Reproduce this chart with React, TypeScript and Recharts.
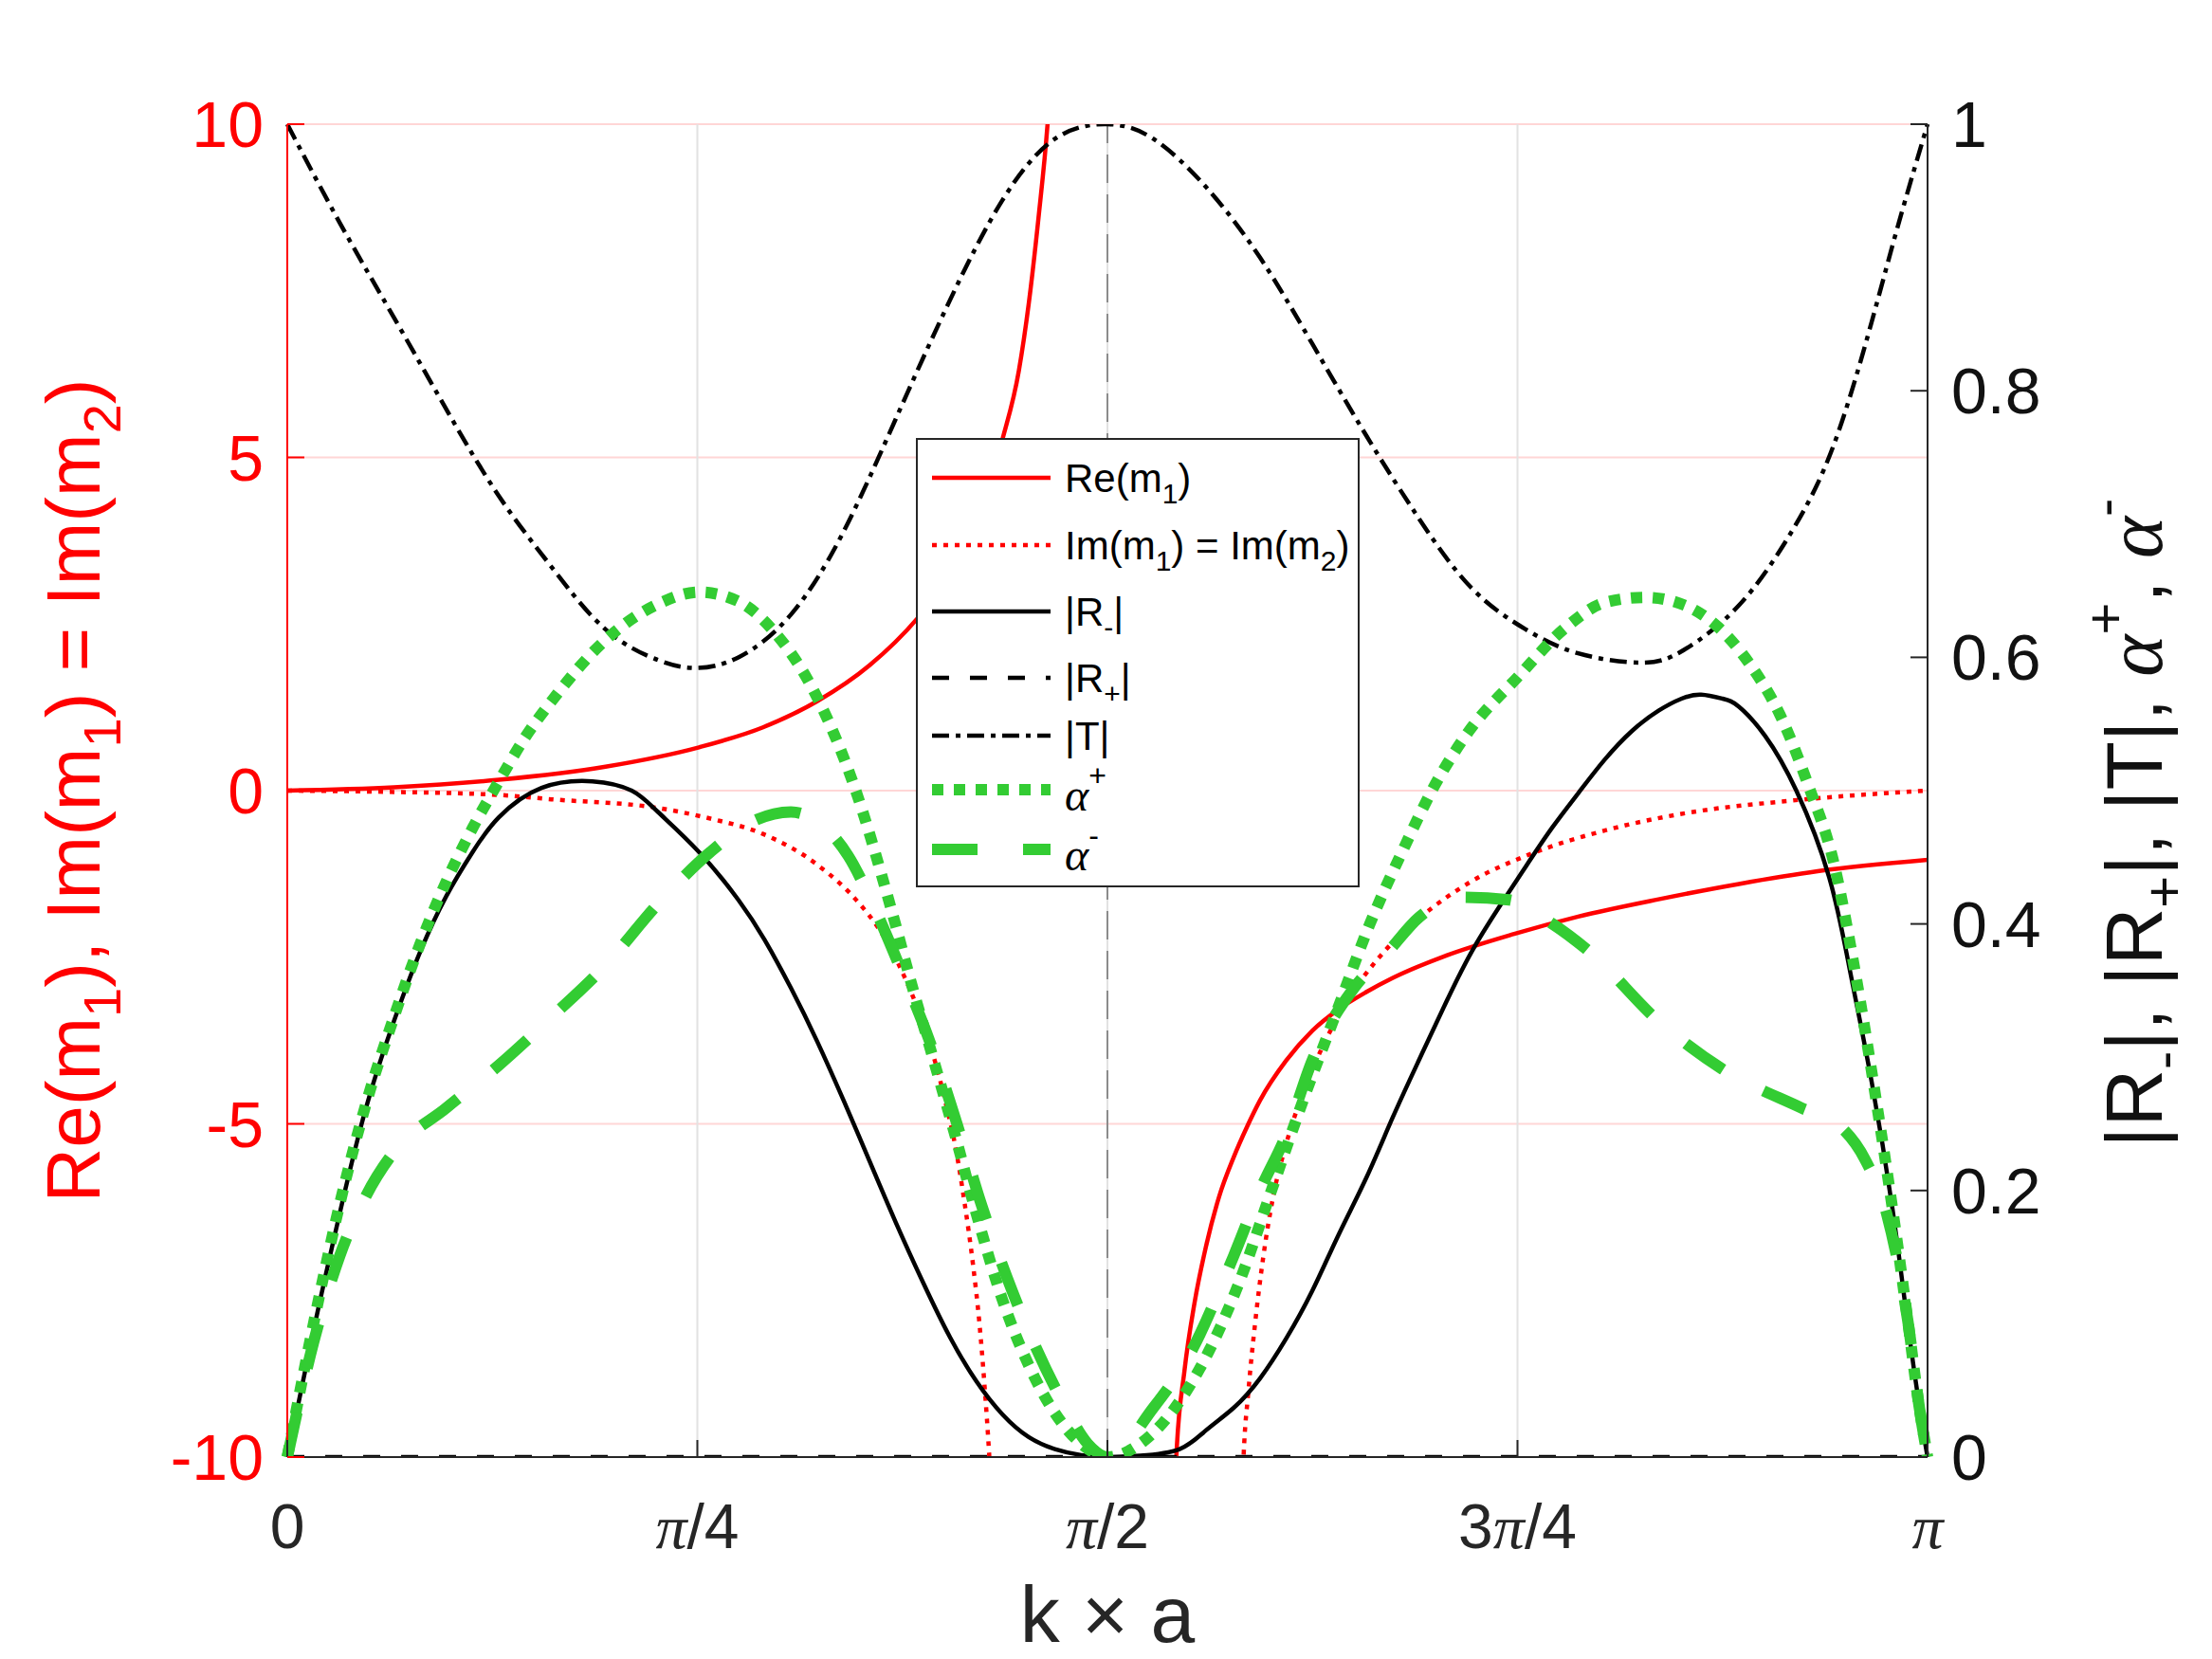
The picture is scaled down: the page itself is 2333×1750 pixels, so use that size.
import React from "react";
import { LineChart, Line, XAxis, YAxis, CartesianGrid, ReferenceLine } from "recharts";

const W = 2333;
const H = 1750;
const SANS = "'Liberation Sans', Arial, Helvetica, sans-serif";
const SERIF = "'Liberation Serif', 'Times New Roman', serif";
const RED = "#ff0000";
const GREEN = "#33cc33";
const INK = "#262626";

// x values are k*a in units of pi
const xTicks = [0, 0.25, 0.5, 0.75, 1];
const xTickLabels = ["0", "π/4", "π/2", "3π/4", "π"];
const leftTicks = [-10, -5, 0, 5, 10];
const rightTicks = [0, 0.2, 0.4, 0.6, 0.8, 1];

// Re(m1), two branches (left axis)
const reLeftX = [0, 0.065, 0.129, 0.194, 0.251, 0.29, 0.323, 0.355, 0.384, 0.41, 0.436, 0.446, 0.452, 0.458, 0.4635, 0.47];
const reLeftY = [0, 0.05, 0.163, 0.36, 0.65, 0.95, 1.34, 1.88, 2.58, 3.45, 5.27, 6.3, 7.3, 8.6, 10, 12.6];
const reRightX = [0.538, 0.542, 0.547, 0.553, 0.56, 0.568, 0.577, 0.585, 0.593, 0.609, 0.625, 0.641, 0.658, 0.674, 0.706, 0.748, 0.787, 0.836, 0.885, 0.933, 1];
const reRightY = [-13, -10, -8.7, -7.7, -6.85, -6.1, -5.5, -5.05, -4.65, -4.05, -3.6, -3.28, -3.02, -2.81, -2.48, -2.15, -1.89, -1.63, -1.4, -1.21, -1.04];

// Im(m1) = Im(m2), two branches (left axis)
const imLeftX = [0, 0.065, 0.129, 0.161, 0.226, 0.258, 0.29, 0.323, 0.349, 0.36, 0.368, 0.376, 0.384, 0.391, 0.397, 0.402, 0.407, 0.413, 0.418, 0.422, 0.425, 0.428, 0.431];
const imLeftY = [0, -0.02, -0.065, -0.13, -0.26, -0.42, -0.65, -1.11, -1.7, -2.05, -2.38, -2.78, -3.25, -3.75, -4.25, -4.75, -5.3, -6.2, -7.1, -8.0, -8.9, -10, -11.5];
const imRightX = [0.581, 0.583, 0.586, 0.59, 0.595, 0.601, 0.609, 0.619, 0.632, 0.645, 0.664, 0.69, 0.722, 0.755, 0.803, 0.852, 0.917, 1];
const imRightY = [-11.5, -10, -9.0, -8.0, -7.0, -6.1, -5.3, -4.55, -3.8, -3.2, -2.55, -1.92, -1.36, -0.98, -0.6, -0.34, -0.15, 0];

// |R-| (right axis)
const rMinusX = [0, 0.016, 0.032, 0.048, 0.065, 0.081, 0.097, 0.113, 0.129, 0.155, 0.186, 0.21, 0.226, 0.251, 0.275, 0.291, 0.307, 0.323, 0.339, 0.355, 0.371, 0.388, 0.404, 0.42, 0.436, 0.452, 0.468, 0.484, 0.5, 0.52, 0.544, 0.56, 0.577, 0.593, 0.609, 0.625, 0.641, 0.658, 0.674, 0.69, 0.706, 0.722, 0.739, 0.755, 0.771, 0.787, 0.803, 0.82, 0.836, 0.85, 0.862, 0.875, 0.885, 0.901, 0.92, 0.94, 0.953, 0.966, 0.979, 0.988, 0.996, 1];
const rMinusY = [0, 0.095, 0.183, 0.262, 0.327, 0.379, 0.421, 0.454, 0.48, 0.502, 0.507, 0.5, 0.484, 0.454, 0.418, 0.388, 0.352, 0.312, 0.268, 0.222, 0.176, 0.13, 0.09, 0.057, 0.032, 0.015, 0.006, 0.0015, 0, 0.001, 0.006, 0.02, 0.037, 0.059, 0.089, 0.125, 0.167, 0.21, 0.255, 0.298, 0.34, 0.379, 0.413, 0.443, 0.472, 0.498, 0.523, 0.545, 0.56, 0.569, 0.572, 0.569, 0.563, 0.541, 0.5, 0.435, 0.363, 0.281, 0.183, 0.099, 0.03, 0];

// |R+| (right axis)
const rPlusX = [0, 1];
const rPlusY = [0, 0];

// |T| (right axis)
const tX = [0, 0.032, 0.065, 0.097, 0.129, 0.161, 0.194, 0.226, 0.249, 0.275, 0.307, 0.339, 0.371, 0.404, 0.436, 0.468, 0.5, 0.528, 0.56, 0.593, 0.625, 0.658, 0.69, 0.722, 0.755, 0.787, 0.826, 0.852, 0.885, 0.917, 0.943, 0.966, 0.982, 1];
const tY = [1, 0.926, 0.855, 0.786, 0.721, 0.668, 0.621, 0.598, 0.592, 0.6, 0.632, 0.694, 0.779, 0.868, 0.943, 0.989, 1, 0.989, 0.953, 0.9, 0.835, 0.766, 0.704, 0.652, 0.621, 0.603, 0.596, 0.606, 0.639, 0.694, 0.76, 0.852, 0.924, 1];

// alpha+ (right axis)
const aPlusX = [0, 0.016, 0.032, 0.048, 0.065, 0.081, 0.097, 0.113, 0.129, 0.145, 0.161, 0.194, 0.226, 0.251, 0.275, 0.297, 0.323, 0.346, 0.368, 0.381, 0.394, 0.407, 0.42, 0.436, 0.452, 0.468, 0.484, 0.5, 0.52, 0.54, 0.56, 0.58, 0.6, 0.62, 0.64, 0.66, 0.68, 0.7, 0.72, 0.75, 0.78, 0.803, 0.828, 0.852, 0.872, 0.891, 0.91, 0.927, 0.943, 0.956, 0.969, 0.979, 0.988, 0.995, 1];
const aPlusY = [0, 0.1, 0.19, 0.265, 0.33, 0.385, 0.432, 0.472, 0.507, 0.54, 0.567, 0.613, 0.64, 0.649, 0.642, 0.619, 0.57, 0.502, 0.412, 0.353, 0.298, 0.242, 0.183, 0.118, 0.069, 0.033, 0.01, 0, 0.01, 0.035, 0.075, 0.13, 0.2, 0.27, 0.335, 0.4, 0.455, 0.505, 0.544, 0.585, 0.623, 0.641, 0.645, 0.639, 0.623, 0.596, 0.557, 0.505, 0.445, 0.363, 0.265, 0.183, 0.102, 0.037, 0];

// alpha- (right axis)
const aMinusX = [0, 0.016, 0.032, 0.048, 0.065, 0.097, 0.129, 0.161, 0.194, 0.226, 0.258, 0.284, 0.307, 0.323, 0.342, 0.358, 0.375, 0.391, 0.407, 0.423, 0.439, 0.455, 0.472, 0.488, 0.5, 0.528, 0.551, 0.577, 0.593, 0.609, 0.625, 0.651, 0.671, 0.69, 0.716, 0.745, 0.765, 0.794, 0.836, 0.875, 0.923, 0.946, 0.962, 0.975, 0.988, 0.995, 1];
const aMinusY = [0, 0.086, 0.151, 0.196, 0.229, 0.262, 0.294, 0.33, 0.369, 0.415, 0.454, 0.477, 0.484, 0.477, 0.451, 0.412, 0.363, 0.314, 0.255, 0.19, 0.134, 0.086, 0.043, 0.01, 0, 0.037, 0.079, 0.151, 0.2, 0.242, 0.298, 0.353, 0.379, 0.405, 0.42, 0.418, 0.405, 0.379, 0.327, 0.291, 0.262, 0.249, 0.223, 0.183, 0.102, 0.037, 0];

const zip = (xs: number[], ys: number[]) => xs.map((t, i) => ({ t, v: ys[i] }));
const gap = { t: 0.5, v: null };

const reData = [...zip(reLeftX, reLeftY), gap, ...zip(reRightX, reRightY)];
const imData = [...zip(imLeftX, imLeftY), gap, ...zip(imRightX, imRightY)];

const styles: Record<string, any> = {
  re: { stroke: RED, strokeWidth: 4.5 },
  im: { stroke: RED, strokeWidth: 4.5, strokeDasharray: "5 7" },
  rMinus: { stroke: "#000", strokeWidth: 4.5 },
  rPlus: { stroke: "#000", strokeWidth: 4.5, strokeDasharray: "18 22" },
  t: { stroke: "#000", strokeWidth: 4.5, strokeDasharray: "18 7 5 7" },
  aPlus: { stroke: GREEN, strokeWidth: 12, strokeDasharray: "12 11" },
  aMinus: { stroke: GREEN, strokeWidth: 12, strokeDasharray: "48 48" },
};

type Part = string | { t: string; kind?: "sub" | "sup"; italic?: boolean };

// text runs with sub/superscripts, shifting the baseline with dy only where it changes
const Rich = ({ parts, sub, sup, small }: { parts: Part[]; sub: number; sup: number; small: number }) => {
  let cur = 0;
  return (
    <>
      {parts.map((p, i) => {
        const o = typeof p === "string" ? { t: p } : p;
        const target = o.kind === "sub" ? sub : o.kind === "sup" ? -sup : 0;
        const dy = target - cur;
        cur = target;
        return (
          <tspan
            key={i}
            dy={dy !== 0 ? dy : undefined}
            fontSize={o.kind ? small : undefined}
            fontFamily={o.italic ? SERIF : undefined}
            fontStyle={o.italic ? "italic" : undefined}
          >
            {o.t}
          </tspan>
        );
      })}
    </>
  );
};

const piParts = (label: string): Part[] =>
  label
    .split(/(π)/)
    .filter((s) => s !== "")
    .map((s) => (s === "π" ? { t: "π", italic: true } : s));

const XTick = (props: any) => {
  const { x, y, payload } = props;
  const label = xTickLabels[xTicks.indexOf(payload.value)];
  return (
    <g>
      <line x1={x} x2={x} y1={y} y2={y - 18} stroke={INK} strokeWidth={2} />
      <text x={x} y={y + 96} textAnchor="middle" fill={INK} fontSize={66} fontFamily={SANS}>
        <Rich parts={piParts(label)} sub={0} sup={0} small={66} />
      </text>
    </g>
  );
};

const LeftTick = (props: any) => {
  const { x, y, payload } = props;
  return (
    <g>
      <line x1={x} x2={x + 18} y1={y} y2={y} stroke={RED} strokeWidth={2} />
      <text x={x - 25} y={y + 24} textAnchor="end" fill={RED} fontSize={68} fontFamily={SANS}>
        {payload.value}
      </text>
    </g>
  );
};

const RightTick = (props: any) => {
  const { x, y, payload } = props;
  return (
    <g>
      <line x1={x} x2={x - 18} y1={y} y2={y} stroke={INK} strokeWidth={2} />
      <text x={x + 25} y={y + 24} textAnchor="start" fill="#111" fontSize={68} fontFamily={SANS}>
        {payload.value}
      </text>
    </g>
  );
};

const leftTitle: Part[] = ["Re(m", { t: "1", kind: "sub" }, "), Im(m", { t: "1", kind: "sub" }, ") = Im(m", { t: "2", kind: "sub" }, ")"];
const rightTitle: Part[] = [
  "|R", { t: "-", kind: "sub" }, "|, |R", { t: "+", kind: "sub" }, "|, |T|, ",
  { t: "α", italic: true }, { t: "+", kind: "sup" }, ", ",
  { t: "α", italic: true }, { t: "-", kind: "sup" },
];

const legendRows: { key: string; y: number; parts: Part[] }[] = [
  { key: "re", y: 504, parts: ["Re(m", { t: "1", kind: "sub" }, ")"] },
  { key: "im", y: 575, parts: ["Im(m", { t: "1", kind: "sub" }, ") = Im(m", { t: "2", kind: "sub" }, ")"] },
  { key: "rMinus", y: 645, parts: ["|R", { t: "-", kind: "sub" }, "|"] },
  { key: "rPlus", y: 715, parts: ["|R", { t: "+", kind: "sub" }, "|"] },
  { key: "t", y: 776, parts: ["|T|"] },
  { key: "aPlus", y: 833, parts: [{ t: "α", italic: true }, { t: "+", kind: "sup" }] },
  { key: "aMinus", y: 896, parts: [{ t: "α", italic: true }, { t: "-", kind: "sup" }] },
];

const Overlay = () => (
  <svg width={W} height={H} style={{ position: "absolute", left: 0, top: 0, pointerEvents: "none" }}>
    <text x={105} y={834} transform="rotate(-90 105 834)" textAnchor="middle" fill={RED} fontSize={80} fontFamily={SANS}>
      <Rich parts={leftTitle} sub={22} sup={0} small={56} />
    </text>
    <text x={2280} y={868} transform="rotate(-90 2280 868)" textAnchor="middle" fill="#111" fontSize={84} fontFamily={SANS}>
      <Rich parts={rightTitle} sub={22} sup={40} small={58} />
    </text>
    <text x={1168} y={1732} textAnchor="middle" fill={INK} fontSize={84} fontFamily={SANS}>
      k × a
    </text>
    <rect x={967} y={463} width={466} height={472} fill="#fff" stroke={INK} strokeWidth={2} />
    {legendRows.map((r) => {
      const isAlpha = r.key === "aPlus" || r.key === "aMinus";
      return (
        <g key={r.key}>
          <line x1={983} x2={1108} y1={r.y} y2={r.y} {...styles[r.key]} />
          <text x={1123} y={r.y + (isAlpha ? 22 : 15)} fill="#000" fontSize={isAlpha ? 48 : 42} fontFamily={SANS}>
            <Rich parts={r.parts} sub={12} sup={26} small={isAlpha ? 32 : 30} />
          </text>
        </g>
      );
    })}
  </svg>
);

const lineCommon = { dataKey: "v", dot: false, activeDot: false, isAnimationActive: false };

export default function App() {
  return (
    <div style={{ position: "absolute", left: 0, top: 0, width: W, height: H, background: "#fff" }}>
      <LineChart width={W} height={H} margin={{ top: 131, right: 100, bottom: 63, left: 103 }}>
        <CartesianGrid yAxisId="left" vertical={false} stroke="#ffd6d6" strokeWidth={2} />
        <CartesianGrid yAxisId="left" horizontal={false} stroke="#e2e2e2" strokeWidth={2} />
        <XAxis
          dataKey="t"
          type="number"
          domain={[0, 1]}
          ticks={xTicks}
          interval={0}
          height={150}
          tickSize={0}
          tickMargin={0}
          tickLine={false}
          axisLine={{ stroke: INK, strokeWidth: 2 }}
          tick={<XTick />}
        />
        <YAxis
          yAxisId="left"
          domain={[-10, 10]}
          ticks={leftTicks}
          interval={0}
          allowDataOverflow
          width={200}
          tickSize={0}
          tickMargin={0}
          tickLine={false}
          axisLine={{ stroke: RED, strokeWidth: 2 }}
          tick={<LeftTick />}
        />
        <YAxis
          yAxisId="right"
          orientation="right"
          domain={[0, 1]}
          ticks={rightTicks}
          interval={0}
          allowDataOverflow
          width={200}
          tickSize={0}
          tickMargin={0}
          tickLine={false}
          axisLine={{ stroke: INK, strokeWidth: 2 }}
          tick={<RightTick />}
        />
        <ReferenceLine yAxisId="left" x={0.5} stroke="#8c8c8c" strokeWidth={2} strokeDasharray="30 12" />
        <Line yAxisId="left" data={reData} type="monotone" {...lineCommon} {...styles.re} />
        <Line yAxisId="left" data={imData} type="monotone" {...lineCommon} {...styles.im} />
        <Line yAxisId="right" data={zip(rMinusX, rMinusY)} type="natural" {...lineCommon} {...styles.rMinus} />
        <Line yAxisId="right" data={zip(rPlusX, rPlusY)} type="linear" {...lineCommon} {...styles.rPlus} />
        <Line yAxisId="right" data={zip(tX, tY)} type="natural" {...lineCommon} {...styles.t} />
        <Line yAxisId="right" data={zip(aPlusX, aPlusY)} type="monotone" {...lineCommon} {...styles.aPlus} />
        <Line yAxisId="right" data={zip(aMinusX, aMinusY)} type="monotone" {...lineCommon} {...styles.aMinus} />
      </LineChart>
      <Overlay />
    </div>
  );
}
